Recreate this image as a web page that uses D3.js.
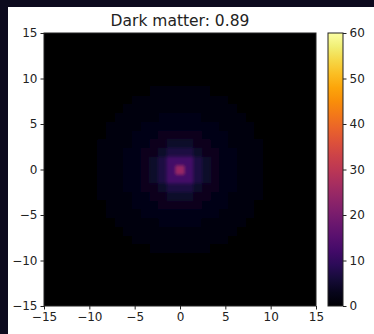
<!DOCTYPE html>
<html><head><meta charset="utf-8">
<script src="https://cdn.jsdelivr.net/npm/d3@7"></script>
<style>body{margin:0;background:#fff;}svg{display:block;}</style>
</head><body>
<svg id="c" width="374" height="334"></svg>
<script>
// Data
const title = "Dark matter: 0.89";
const xTicks = [-15, -10, -5, 0, 5, 10, 15];
const yTicks = [-15, -10, -5, 0, 5, 10, 15];
const cbTicks = [0, 10, 20, 30, 40, 50, 60];
const gridCoords = d3.range(-15, 16); // 31 cell centres along each axis
// density read off by (rounded) distance from centre, in cells
const radialProfile = [25, 12, 7, 4.6, 3.3, 2.5, 1.9, 1.4, 1.05, 0.8, 0.62, 0.48, 0.38, 0.3, 0.24, 0.2, 0.17, 0.14, 0.12, 0.1, 0.09, 0.08];
const colorDomain = [0, 60];

const svg = d3.select("#c");
const defs = svg.append("defs");
svg.append("rect").attr("x",0).attr("y",0).attr("width",374).attr("height",334).attr("fill","#0c0a1e");
svg.append("rect").attr("x",8).attr("y",7).attr("width",366).attr("height",327).attr("fill","#ffffff");

const L = 44, R = 316, T = 33, B = 306;
const x = d3.scaleBand().domain(gridCoords).range([L, R]);
const y = d3.scaleBand().domain(gridCoords.slice().reverse()).range([T, B]);
const xl = d3.scaleLinear().domain([-15, 15]).range([L, R]);
const yl = d3.scaleLinear().domain([-15, 15]).range([B, T]);
const color = d3.scaleSequential(d3.interpolateInferno).domain(colorDomain);

const cells = [];
gridCoords.forEach(gy => gridCoords.forEach(gx => {
  const r = Math.round(Math.sqrt(gx*gx + gy*gy));
  cells.push({gx, gy, v: radialProfile[Math.min(r, radialProfile.length-1)]});
}));

defs.append("clipPath").attr("id","clip").append("rect").attr("x",L).attr("y",T).attr("width",R-L).attr("height",B-T);
defs.append("filter").attr("id","soft").attr("x",-0.05).attr("y",-0.05).attr("width",1.1).attr("height",1.1)
  .append("feGaussianBlur").attr("stdDeviation",1.7);
const hm = svg.append("g").attr("clip-path","url(#clip)");
hm.append("rect").attr("x",L).attr("y",T).attr("width",R-L).attr("height",B-T).attr("fill",color(0));
hm.append("g").attr("filter","url(#soft)").selectAll("rect").data(cells).join("rect")
  .attr("x", d => x(d.gx))
  .attr("y", d => y(d.gy))
  .attr("width", x.bandwidth() + 0.5)
  .attr("height", y.bandwidth() + 0.5)
  .attr("fill", d => color(d.v));

const font = "DejaVu Sans, sans-serif";
const xAxis = svg.append("g").attr("transform", `translate(0,${B})`)
  .call(d3.axisBottom(xl).tickValues(xTicks).tickSize(3.5).tickPadding(3).tickFormat(d3.format("")));
const yAxis = svg.append("g").attr("transform", `translate(${L},0)`)
  .call(d3.axisLeft(yl).tickValues(yTicks).tickSize(3.5).tickPadding(3).tickFormat(d3.format("")));
[xAxis, yAxis].forEach(a => {
  a.select(".domain").remove();
  a.selectAll("line").attr("stroke","#222");
  a.selectAll("text").attr("font-family",font).attr("font-size",12).attr("fill","#222");
});
svg.append("rect").attr("x",L).attr("y",T).attr("width",R-L).attr("height",B-T)
  .attr("fill","none").attr("stroke","#222").attr("stroke-width",1);

svg.append("text").attr("x",(L+R)/2).attr("y",26).attr("text-anchor","middle")
  .attr("font-family",font).attr("font-size",15.5).attr("fill","#222").text(title);

// colorbar
const cbL = 328, cbW = 15;
const cy = d3.scaleLinear().domain(colorDomain).range([B, T]);
const grad = defs.append("linearGradient").attr("id","grad").attr("x1",0).attr("y1",1).attr("x2",0).attr("y2",0);
d3.range(0, 1.0001, 0.05).forEach(t => grad.append("stop").attr("offset", t).attr("stop-color", d3.interpolateInferno(t)));
svg.append("rect").attr("x",cbL).attr("y",T).attr("width",cbW).attr("height",B-T).attr("fill","url(#grad)")
  .attr("stroke","#222").attr("stroke-width",1);
const cbAxis = svg.append("g").attr("transform", `translate(${cbL+cbW},0)`)
  .call(d3.axisRight(cy).tickValues(cbTicks).tickSize(3.5).tickPadding(3));
cbAxis.select(".domain").remove();
cbAxis.selectAll("line").attr("stroke","#222");
cbAxis.selectAll("text").attr("font-family",font).attr("font-size",12).attr("fill","#222");
</script>
</body></html>
